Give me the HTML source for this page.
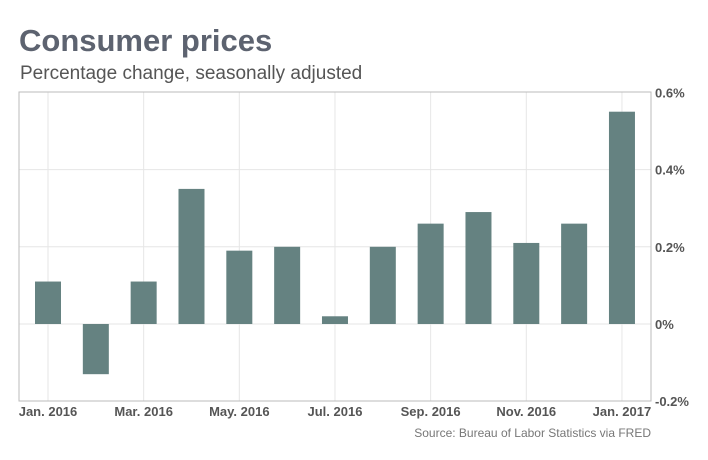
<!DOCTYPE html>
<html><head><meta charset="utf-8"><style>
body{margin:0;background:#fff;width:708px;height:455px;overflow:hidden;font-family:"Liberation Sans",sans-serif}
</style></head><body>
<svg width="708" height="455">
<text x="19" y="51" font-size="31" font-weight="bold" fill="#5d6370">Consumer prices</text>
<text x="20" y="79" font-size="19" fill="#555">Percentage change, seasonally adjusted</text>
<g id="grid"></g>
<g id="bars"></g>
<rect x="19" y="92" width="632" height="309" fill="none" stroke="#bbb"/>
<g id="yt"></g><g id="xt"></g>
<text x="651" y="437" font-size="12" fill="#777" text-anchor="end">Source: Bureau of Labor Statistics via FRED</text>
</svg>
<script>
const months=["Jan. 2016","Feb. 2016","Mar. 2016","Apr. 2016","May. 2016","Jun. 2016","Jul. 2016","Aug. 2016","Sep. 2016","Oct. 2016","Nov. 2016","Dec. 2016","Jan. 2017"];
const values=[0.11,-0.13,0.11,0.35,0.19,0.2,0.02,0.2,0.26,0.29,0.21,0.26,0.55];
const yTicks=[0.6,0.4,0.2,0,-0.2];
const yTickLabels=["0.6%","0.4%","0.2%","0%","-0.2%"];
const NS="http://www.w3.org/2000/svg";
const y=v=>324-v*386;
const x=i=>48+i*47.83;
const g=document.getElementById('grid'),b=document.getElementById('bars'),yt=document.getElementById('yt'),xt=document.getElementById('xt');
function mk(tag,at,p){const e=document.createElementNS(NS,tag);for(const k in at)e.setAttribute(k,at[k]);p.appendChild(e);return e;}
yTicks.forEach((t,i)=>{
 if(t>-0.2&&t<0.6){const l=mk('line',{x1:19,x2:651,y1:y(t),y2:y(t),stroke:'#e6e6e6'},g);
 
 }
 const tx=mk('text',{x:655,y:y(t)+5,'font-size':13,'font-weight':'bold',fill:'#555'},yt);
 tx.textContent=yTickLabels[i];
 
 
});
months.forEach((m,i)=>{
 if(i%2===0){const l=mk('line',{x1:x(i),x2:x(i),y1:92,y2:401,stroke:'#e6e6e6'},g);
 
 
 const tx=mk('text',{x:x(i),y:416,'font-size':13,'font-weight':'bold',fill:'#555','text-anchor':'middle'},xt);
 tx.textContent=m;
 
 }
 const v=values[i];
 const r=mk('rect',{x:x(i)-13,width:26,y:Math.min(y(v),y(0)),height:Math.abs(y(v)-y(0)),fill:'#658281'},b);
 
 
});
</script>
</body></html>
